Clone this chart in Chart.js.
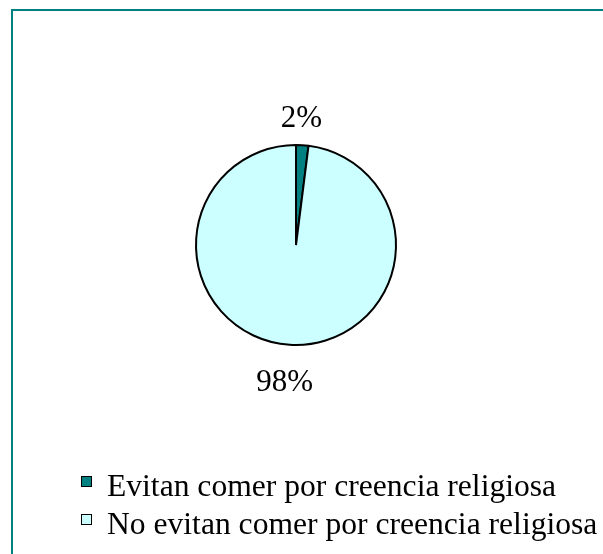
<!DOCTYPE html>
<html>
<head>
<meta charset="utf-8">
<script src="https://cdn.jsdelivr.net/npm/chart.js@4/dist/chart.umd.min.js"></script>
<style>
  html, body { margin: 0; padding: 0; background: #fff; overflow: hidden; }
  #wrap { position: relative; width: 603px; height: 554px; }
  #frame {
    position: absolute; left: 11px; top: 9px; width: 620px; height: 600px;
    border-left: 2px solid #008080; border-top: 2px solid #008080;
    box-sizing: border-box;
  }
  #pie { position: absolute; left: 0; top: 0; }
  #legend {
    position: absolute; left: 81px; top: 467px; margin: 0; padding: 0; list-style: none;
    font-family: "Liberation Serif", "Times New Roman", serif; font-size: 31.6px; color: #000;
  }
  #legend li { display: flex; align-items: center; height: 38px; white-space: nowrap; }
  #legend .box { width: 9px; height: 9px; border: 1px solid #000; margin-right: 15px; margin-top: -10px; }
</style>
</head>
<body>
<div id="wrap">
  <div id="frame"></div>
  <canvas id="pie" width="603" height="554"></canvas>
  <ul id="legend"></ul>
</div>
<script>
// Survey answers
const categories = ['Evitan comer por creencia religiosa', 'No evitan comer por creencia religiosa'];
const percents = [2, 98];
const colors = ['#008080', '#CCFFFF'];

// Percent labels drawn just outside each slice
const outsideLabels = {
  id: 'outsideLabels',
  afterDatasetsDraw(chart) {
    const ctx = chart.ctx;
    const meta = chart.getDatasetMeta(0);
    ctx.save();
    ctx.font = '31px "Liberation Serif", "Times New Roman", serif';
    ctx.fillStyle = '#000';
    ctx.textAlign = 'center';
    ctx.textBaseline = 'middle';
    meta.data.forEach((arc, i) => {
      const mid = (arc.startAngle + arc.endAngle) / 2;
      const r = arc.outerRadius + 32;
      const x = arc.x + Math.cos(mid) * r * 1.02 - 3;
      const y = arc.y + Math.sin(mid) * r + 6;
      ctx.fillText(percents[i] + '%', x, y);
    });
    ctx.restore();
  }
};

const chart = new Chart(document.getElementById('pie'), {
  type: 'pie',
  data: {
    labels: categories,
    datasets: [{
      data: percents,
      backgroundColor: colors,
      borderColor: '#000',
      borderWidth: 2
    }]
  },
  options: {
    responsive: false,
    animation: false,
    layout: { padding: { left: 195, right: 206, top: 144, bottom: 208 } },
    plugins: {
      legend: { display: false },
      tooltip: { enabled: false }
    }
  },
  plugins: [outsideLabels]
});

// Legend built from the chart's own labels
const legend = document.getElementById('legend');
chart.data.labels.forEach((label, i) => {
  const li = document.createElement('li');
  li.innerHTML = `<span class="box" style="background:${colors[i]}"></span><span>${label}</span>`;
  legend.appendChild(li);
});
</script>
</body>
</html>
